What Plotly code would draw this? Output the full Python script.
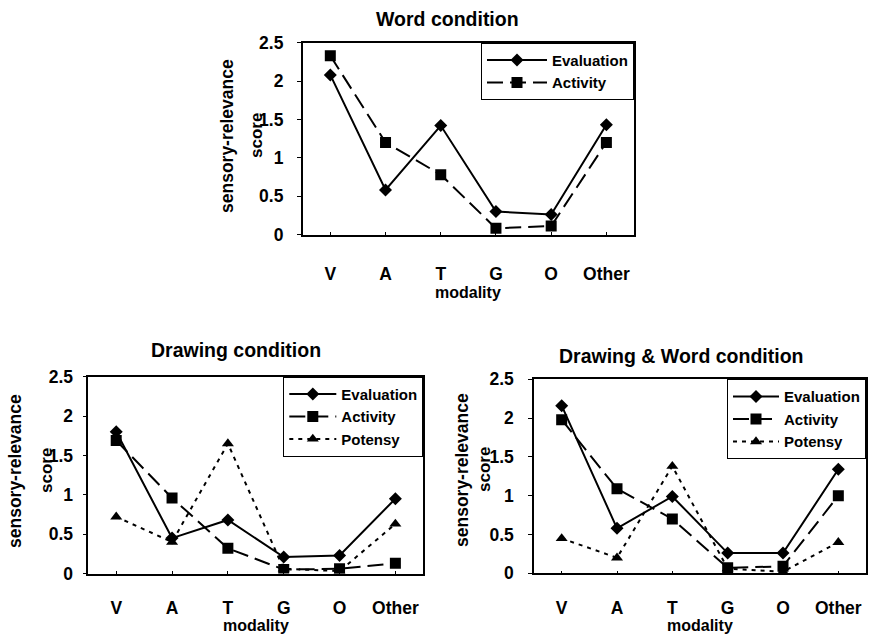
import plotly.graph_objects as go

categories = ["V", "A", "T", "G", "O", "Other"]
y_ticks = [0, 0.5, 1, 1.5, 2, 2.5]
y_tick_text = ["0", "0.5", "1", "1.5", "2", "2.5"]

word_eval = [2.08, 0.58, 1.42, 0.30, 0.26, 1.43]
word_act = [2.33, 1.20, 0.78, 0.08, 0.11, 1.20]

draw_eval = [1.80, 0.45, 0.68, 0.21, 0.23, 0.95]
draw_act = [1.69, 0.96, 0.32, 0.05, 0.06, 0.13]
draw_pot = [0.72, 0.40, 1.65, 0.06, 0.03, 0.63]

dw_eval = [2.16, 0.58, 0.99, 0.26, 0.26, 1.34]
dw_act = [1.98, 1.09, 0.70, 0.07, 0.09, 1.00]
dw_pot = [0.45, 0.20, 1.38, 0.06, 0.02, 0.40]

W, H = 869, 634
FONT = "Liberation Sans, Arial, sans-serif"

def px_x(x):
    return x / W

def px_y(y):
    return 1 - y / H

# plot boxes in pixels: (left, top, right, bottom)
boxes = {
    "": (302.7, 42.7, 634.0, 234.5),
    "2": (88.3, 376.7, 423.3, 573.5),
    "3": (534.0, 379.3, 866.0, 573.3),
}

styles = {
    "Evaluation": dict(symbol="diamond", size=10, dash="solid"),
    "Activity": dict(symbol="square", size=11, dash="16px,7px"),
    "Potensy": dict(symbol="triangle-up", size=10.5, dash="4px,5px"),
}

fig = go.Figure()

def add(name, ys, ax, legend):
    st = styles[name]
    fig.add_trace(go.Scatter(
        x=categories, y=ys, name=name, mode="lines+markers",
        xaxis="x" + ax, yaxis="y" + ax, legend=legend,
        line=dict(color="black", width=2, dash=st["dash"]),
        marker=dict(symbol=st["symbol"], size=st["size"], color="black"),
    ))

add("Evaluation", word_eval, "", "legend")
add("Activity", word_act, "", "legend")
add("Evaluation", draw_eval, "2", "legend2")
add("Activity", draw_act, "2", "legend2")
add("Potensy", draw_pot, "2", "legend2")
add("Evaluation", dw_eval, "3", "legend3")
add("Activity", dw_act, "3", "legend3")
add("Potensy", dw_pot, "3", "legend3")

layout = dict(
    width=W, height=H,
    margin=dict(l=0, r=0, t=0, b=0, pad=0, autoexpand=False),
    paper_bgcolor="white", plot_bgcolor="white",
    font=dict(family=FONT, size=16, color="black", weight="bold"),
    annotations=[],
)

titles = {
    "": ("Word condition", 447, 19),
    "2": ("Drawing condition", 236, 350),
    "3": ("Drawing & Word condition", 681, 356),
}
ytitle_pos = {
    "": (227, 256, 136),
    "2": (15, 46, 471),
    "3": (462, 484, 470),
}
xtitle_y = {"": 292, "2": 625, "3": 625}
xstand = {"": 23, "2": 18, "3": 18}
ystand = {"": 10, "2": 6, "3": 11}
legw = {"": 60, "2": 47, "3": 46}

for ax, (l, t, r, b) in boxes.items():
    layout["xaxis" + ax] = dict(
        domain=[px_x(l), px_x(r)], anchor="y" + ax,
        type="category", range=[-0.5, 5.5], automargin=False,
        showline=True, linecolor="black", linewidth=1.5, mirror=True,
        showgrid=False, zeroline=False,
        ticks="inside", ticklen=3, tickwidth=1, tickcolor="black",
        ticklabelstandoff=xstand[ax],
        tickfont=dict(size=17.5, family=FONT, weight="bold"),
    )
    layout["yaxis" + ax] = dict(
        domain=[px_y(b), px_y(t)], anchor="x" + ax,
        range=[0, 2.5], tickvals=y_ticks, ticktext=y_tick_text, automargin=False,
        showline=True, linecolor="black", linewidth=1.5, mirror=True,
        showgrid=False, zeroline=False,
        ticks="outside", ticklen=4, tickwidth=1, tickcolor="black",
        ticklabelstandoff=ystand[ax],
        tickfont=dict(size=17.5, family=FONT, weight="bold"),
    )
    txt, tx, ty = titles[ax]
    layout["annotations"].append(dict(
        text=txt, x=px_x(tx), y=px_y(ty), xref="paper", yref="paper",
        showarrow=False, xanchor="center", yanchor="middle",
        font=dict(size=19.5, family=FONT, weight="bold"),
    ))
    x1, x2, yc = ytitle_pos[ax]
    for s, xx, fs in (("sensory-relevance", x1, 17.5), ("score", x2, 17)):
        layout["annotations"].append(dict(
            text=s, x=px_x(xx), y=px_y(yc), xref="paper", yref="paper",
            showarrow=False, xanchor="center", yanchor="middle", textangle=-90,
            font=dict(size=fs, family=FONT, weight="bold"),
        ))
    layout["annotations"].append(dict(
        text="modality", x=px_x((l + r) / 2), y=px_y(xtitle_y[ax]),
        xref="paper", yref="paper", showarrow=False,
        xanchor="center", yanchor="middle",
        font=dict(size=16, family=FONT, weight="bold"),
    ))
    leg = "legend" + ax
    layout[leg] = dict(
        x=px_x(r), y=px_y(t), xanchor="right", yanchor="top",
        xref="paper", yref="paper",
        bgcolor="white", bordercolor="black", borderwidth=1,
        font=dict(size=15, family=FONT, weight="bold"),
        itemwidth=legw[ax], tracegroupgap=0,
    )

fig.update_layout(**layout)
fig.write_html("out.html", config={"displayModeBar": False},
               post_script="document.body.style.margin='0';")
